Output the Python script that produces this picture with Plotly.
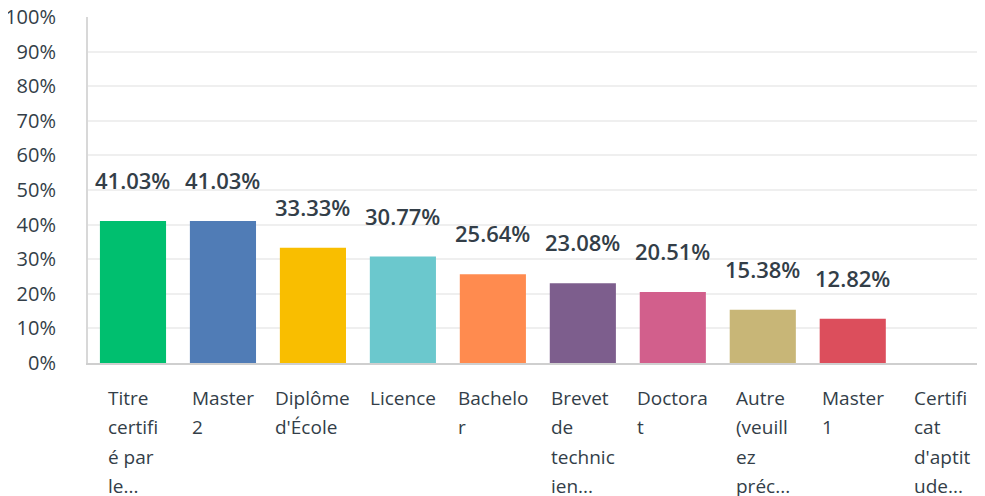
import plotly.graph_objects as go

categories = [
    "Titre certifié par le...",
    "Master 2",
    "Diplôme d'École",
    "Licence",
    "Bachelor",
    "Brevet de technicien...",
    "Doctorat",
    "Autre (veuillez préc...",
    "Master 1",
    "Certificat d'aptitude...",
]
# wrapped tick labels as displayed
tick_lines = [
    ["Titre", "certifi", "é par", "le..."],
    ["Master", "2"],
    ["Diplôme", "d'École"],
    ["Licence"],
    ["Bachelo", "r"],
    ["Brevet", "de", "technic", "ien..."],
    ["Doctora", "t"],
    ["Autre", "(veuill", "ez", "préc..."],
    ["Master", "1"],
    ["Certifi", "cat", "d'aptit", "ude..."],
]
values = [41.03, 41.03, 33.33, 30.77, 25.64, 23.08, 20.51, 15.38, 12.82, 0.0]
colors = ["#00bf6f", "#507cb6", "#f9be00", "#6bc8cd", "#ff8b4f",
          "#7d5e8d", "#d25f8c", "#c8b677", "#dc4e5c", "#5cc0c0"]

FONT = "Open Sans"
TXT = "#333e48"

fig = go.Figure()
x_idx = list(range(len(categories)))
fig.add_trace(go.Bar(
    x=x_idx, y=values, marker=dict(color=colors, line=dict(width=0)),
    width=0.735, hoverinfo="skip",
))

annotations = []
for i, v in enumerate(values):
    if v > 0:
        annotations.append(dict(
            x=i, y=v, xref="x", yref="y", text=f"{v:.2f}%", showarrow=False,
            xanchor="center", yanchor="bottom", yshift=24,
            font=dict(family=FONT, size=22, color=TXT, weight=600),
        ))
for i, lines in enumerate(tick_lines):
    txt = "<br>".join(f'<span style="font-size:19px">{l}</span>' for l in lines)
    annotations.append(dict(
        x=i, y=0, xref="x", yref="paper", text=txt, showarrow=False,
        xanchor="center", yanchor="top", align="left", yshift=-20,
        font=dict(family=FONT, size=22.5, color=TXT),
    ))

fig.update_layout(
    width=985, height=496,
    margin=dict(l=80, r=8, t=9, b=141, autoexpand=False),
    paper_bgcolor="white", plot_bgcolor="white",
    showlegend=False,
    annotations=annotations,
    xaxis=dict(range=[-0.5, 9.47], showticklabels=False, showgrid=False,
               zeroline=False, showline=True, linecolor="#cfcfcf", linewidth=2,
               fixedrange=True, automargin=False),
    yaxis=dict(range=[0, 100], dtick=10, ticksuffix="%", showgrid=True,
               gridcolor="#efefef", gridwidth=2, zeroline=False,
               showline=True, linecolor="#d8d8d8", linewidth=2,
               ticks="", ticklabelstandoff=26, automargin=False,
               ticklabeloverflow="allow",
               tickfont=dict(family=FONT, size=20, color=TXT),
               fixedrange=True),
)

fig.write_html("out.html")
